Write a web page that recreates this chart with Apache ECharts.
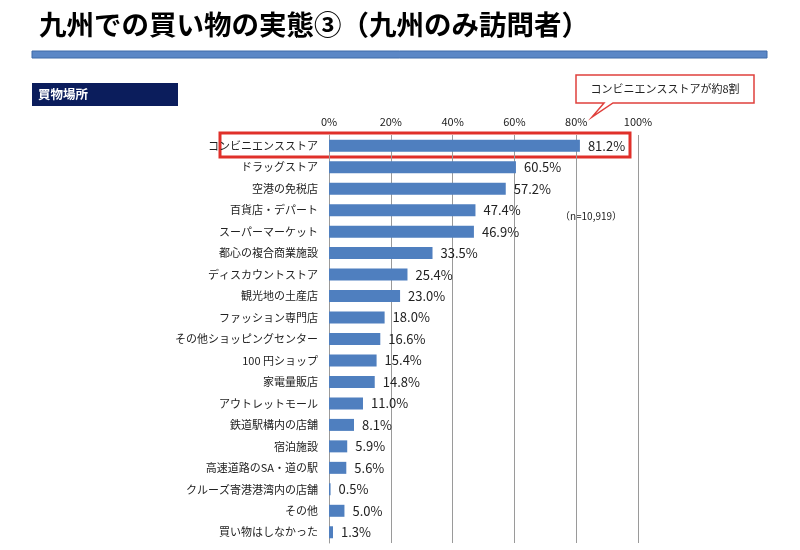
<!DOCTYPE html>
<html><head><meta charset="utf-8">
<script src="https://cdn.jsdelivr.net/npm/echarts@6/dist/echarts.min.js"></script>
<style>html,body{margin:0;padding:0;background:#fff}#c{width:800px;height:550px}</style>
</head><body><div id="c"></div>
<script>
const categories = ["コンビニエンスストア","ドラッグストア","空港の免税店","百貨店・デパート","スーパーマーケット","都心の複合商業施設","ディスカウントストア","観光地の土産店","ファッション専門店","その他ショッピングセンター","100 円ショップ","家電量販店","アウトレットモール","鉄道駅構内の店舗","宿泊施設","高速道路のSA・道の駅","クルーズ寄港港湾内の店舗","その他","買い物はしなかった"];
const values = [81.2,60.5,57.2,47.4,46.9,33.5,25.4,23.0,18.0,16.6,15.4,14.8,11.0,8.1,5.9,5.6,0.5,5.0,1.3];
const tickValues = [0,20,40,60,80,100];
const titleText = "九州での買い物の実態③（九州のみ訪問者）";
const sectionText = "買物場所";
const calloutText = "コンビニエンスストアが約8割";
const noteText = "（n=10,919）";

const FONT = '"Noto Sans CJK JP", "Noto Sans", sans-serif';
const chart = echarts.init(document.getElementById('c'));
chart.setOption({
  animation: false,
  backgroundColor: '#fff',
  textStyle: { fontFamily: FONT },
  grid: { left: 329, right: 162, top: 135, bottom: 7 },
  xAxis: {
    type: 'value', position: 'top', min: tickValues[0], max: tickValues[tickValues.length - 1], interval: tickValues[1] - tickValues[0],
    axisLine: { show: false }, axisTick: { show: false },
    axisLabel: { formatter: v => v + '%', color: '#222', fontSize: 11, margin: 8, fontFamily: FONT },
    splitLine: { show: true, lineStyle: { color: '#9a9a9a', width: 1 } }
  },
  yAxis: {
    type: 'category', data: categories, inverse: true,
    axisLine: { show: true, lineStyle: { color: '#9a9a9a' } }, axisTick: { show: false },
    axisLabel: { color: '#222', fontSize: 11, margin: 11, fontFamily: FONT }
  },
  series: [{
    type: 'bar', data: values, barWidth: 12,
    itemStyle: { color: '#4F7FBF' },
    label: { show: true, position: 'right', distance: 8, formatter: p => p.value.toFixed(1) + '%', color: '#222', fontSize: 13, fontFamily: FONT }
  }],
  graphic: [
    { type: 'text', left: 39, top: 11, style: { text: titleText, font: 'bold 27.5px ' + FONT, fill: '#000' } },
    { type: 'rect', shape: { x: 32, y: 51, width: 735, height: 7 }, style: { fill: '#5B87C6', stroke: '#3F6AA8', lineWidth: 1 } },
    { type: 'rect', shape: { x: 32, y: 83, width: 146, height: 23 }, style: { fill: '#0B1D5C' } },
    { type: 'text', x: 38, y: 94.5, style: { text: sectionText, font: 'bold 12.5px ' + FONT, fill: '#fff', textVerticalAlign: 'middle' } },
    { type: 'polygon', shape: { points: [[576,75],[754,75],[754,103],[613,103],[592,117],[604,103],[576,103]] }, style: { fill: '#fff', stroke: '#E0403C', lineWidth: 1.5 } },
    { type: 'text', x: 665, y: 89, style: { text: calloutText, font: '11px ' + FONT, fill: '#222', textAlign: 'center', textVerticalAlign: 'middle' } },
    { type: 'rect', shape: { x: 220, y: 133, width: 410, height: 24 }, style: { fill: 'none', stroke: '#E0302A', lineWidth: 3 } },
    { type: 'text', x: 591, y: 216, style: { text: noteText, font: '10px ' + FONT, fill: '#222', textAlign: 'center', textVerticalAlign: 'middle' } }
  ]
});
</script></body></html>
